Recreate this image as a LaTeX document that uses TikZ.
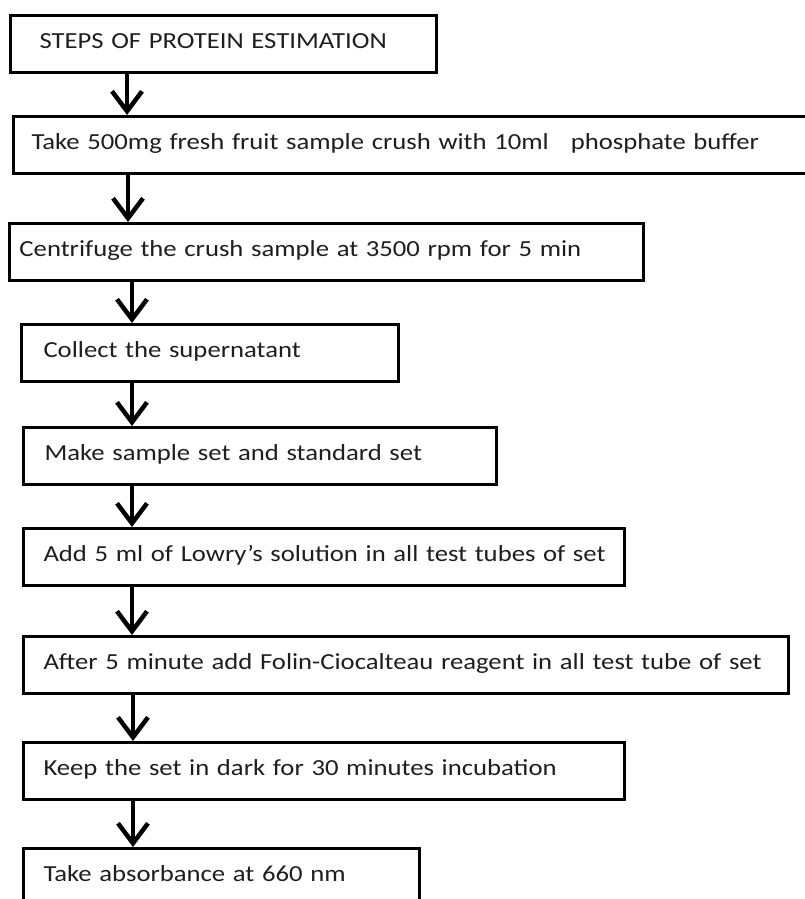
\documentclass[tikz,border=0pt]{standalone}
\usepackage{fontspec}
\setmainfont{Carlito}[FakeStretch=1.16, WordSpace=0.55]
\usepackage{xcolor}
\usetikzlibrary{arrows.meta}

\definecolor{inkgray}{HTML}{1E1E1E}

\begin{document}
\begin{tikzpicture}[x=1pt, y=-1pt,
  stepbox/.style 2 args={draw, line width=3pt, anchor=north west,
    minimum width=#1, minimum height=57, text width=#2, inner xsep=0pt,
    text height=16pt, text depth=7pt,
    align=left, text=inkgray, font=\fontsize{23}{27}\selectfont,
    execute at begin node={\hbox\bgroup}, execute at end node={\egroup}},
  flow/.style={line width=4.5pt, -{Straight Barb[length=20pt, width=30pt]}}]
  % page frame
  \useasboundingbox (0,0) rectangle (805,899);
  % steps
  \node[stepbox={426}{368}] (s1) at (9,14) {STEPS OF PROTEIN ESTIMATION};
  \node[stepbox={803}{767}] (s2) at (12,115) {Take 500mg fresh fruit sample crush with 10ml\hspace{22pt}phosphate buffer};
  \node[stepbox={634}{614}] (s3) at (8,222) {Centrifuge the crush sample at 3500 rpm for 5 min};
  \node[stepbox={377}{333}] (s4) at (20,323) {Collect the supernatant};
  \node[stepbox={473}{431}] (s5) at (22,426) {Make sample set and standard set};
  \node[stepbox={601}{561}] (s6) at (22,527) {Add 5 ml of Lowry's solution in all test tubes of set};
  \node[stepbox={765}{725}] (s7) at (22,635) {After 5 minute add Folin-Ciocalteau reagent in all test tube of set};
  \node[stepbox={601}{561}] (s8) at (22,741) {Keep the set in dark for 30 minutes incubation};
  \node[stepbox={396}{356}] (s9) at (22,847) {Take absorbance at 660 nm};
  % arrows
  \foreach \a/\b/\x in {s1/s2/127, s2/s3/128, s3/s4/132, s4/s5/132,
                        s5/s6/132, s6/s7/132, s7/s8/133, s8/s9/133}
    \draw[flow] (\a.south -| \x,0) -- (\b.north -| \x,0);
\end{tikzpicture}
\end{document}
